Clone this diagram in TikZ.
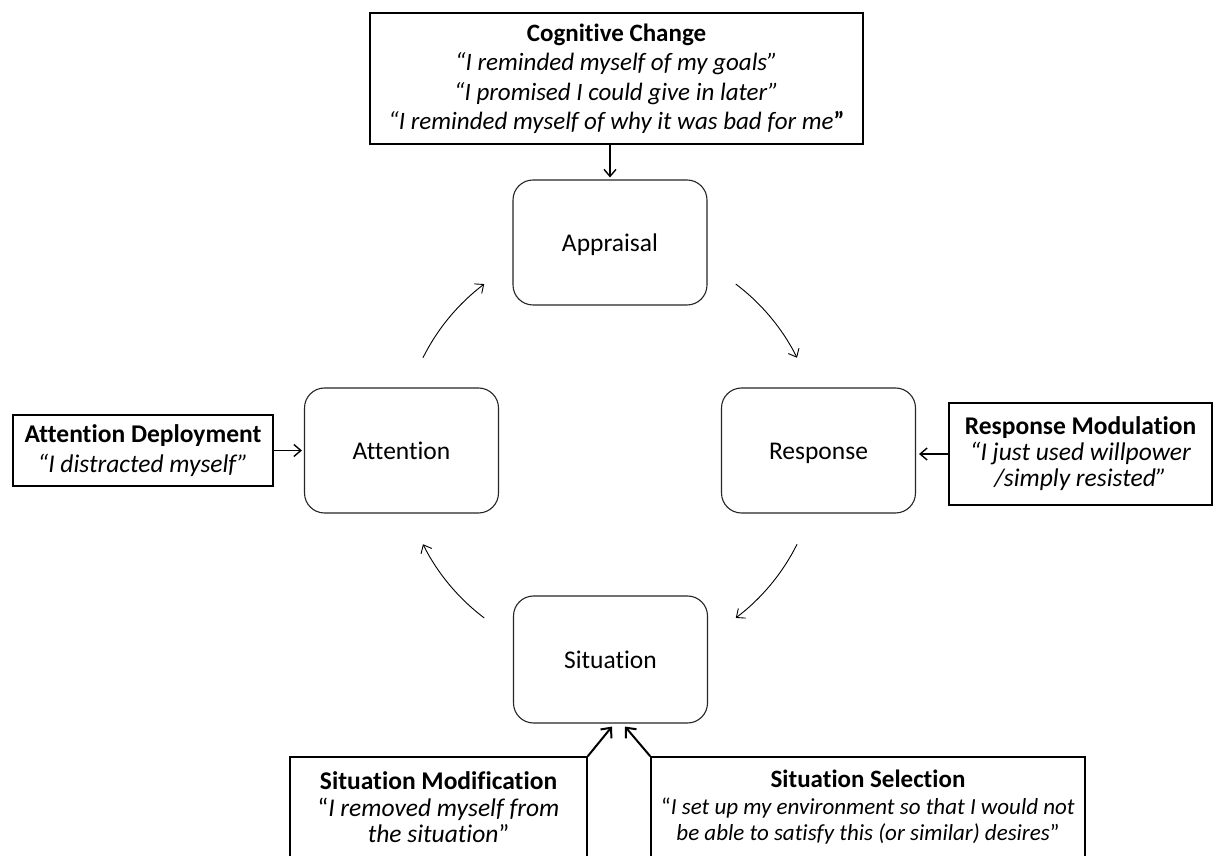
\documentclass[tikz,border=0pt]{standalone}
\usepackage{fontspec}
\setmainfont{Carlito}[Ligatures=NoCommon]
\usetikzlibrary{arrows.meta,calc}
\begin{document}
\begin{tikzpicture}[x=1pt,y=1pt,
  cyc/.style={draw=black!85, line width=1.1pt, rounded corners=20pt,
    minimum width=194pt, minimum height=125pt, inner sep=0pt,
    text height=18pt, text depth=0pt,
    font=\fontsize{25.5}{28}\selectfont},
  strat/.style={draw=black, line width=1.6pt, align=center, inner sep=0pt},
  cycarrow/.style={line width=0.9pt, -{Straight Barb[length=7pt,width=12pt]}},
  sidearrow/.style={line width=1.4pt, -{Straight Barb[length=7pt,width=12pt]}},
  botarrow/.style={line width=2pt, -{Straight Barb[length=8pt,width=14pt]}}
]
\useasboundingbox (0,0) rectangle (1216,855);
\fill[white] (0,0) rectangle (1216,855);

% cycle nodes
\node[cyc] (appraisal) at (610,612.5) {Appraisal};
\node[cyc] (attention) at (401.5,404.5) {Attention};
\node[cyc] (response) at (818.5,404.5) {Response};
\node[cyc, minimum height=127pt] (situation) at (610.5,195.5) {Situation};

% strategy boxes
\node[strat, minimum width=493pt, minimum height=131pt,
  font=\fontsize{25}{29.5}\selectfont] (cog) at (616.5,776.5)
  {\textbf{Cognitive Change}\\
   \textit{“I reminded myself of my goals”}\\
   \textit{“I promised I could give in later”}\\
   \textit{“I reminded myself of why it was bad for me}\textbf{”}};

\node[strat, minimum width=260pt, minimum height=71pt,
  font=\fontsize{25.5}{30}\selectfont] (attdep) at (143,404.5)
  {\textbf{Attention Deployment}\\
   \textit{“I distracted myself”}};

\node[strat, minimum width=263pt, minimum height=102pt,
  font=\fontsize{25.5}{26}\selectfont] (respmod) at (1080.5,401)
  {\textbf{Response Modulation}\\
   \textit{“I just used willpower}\\
   \textit{/simply resisted”}};

\node[strat, minimum width=297pt, minimum height=101pt,
  font=\fontsize{25.5}{26.5}\selectfont] (sitmod) at (438.5,47.5)
  {\textbf{Situation Modification}\\
   “\textit{I removed myself from}\\
   \textit{the situation}”};

\node[strat, minimum width=434pt, minimum height=101pt,
  font=\fontsize{23}{26.5}\selectfont] (sitsel) at (868,47.5)
  {\textbf{\fontsize{25}{26.5}\selectfont Situation Selection}\\
   “\textit{I set up my environment so that I would not}\\
   \textit{be able to satisfy this (or similar) desires}”};

% strategy arrows
\draw[sidearrow] (appraisal.north |- cog.south) -- ([yshift=2pt]appraisal.north);
\draw[sidearrow] (attdep.east) -- ([xshift=-2pt]attention.west |- attdep.east);
\draw[sidearrow] (respmod.west) -- ([xshift=3pt]response.east |- respmod.west);
\draw[botarrow] (sitmod.north east) -- ([xshift=1.5pt,yshift=-3pt]situation.south);
\draw[botarrow] (sitsel.north west) -- ([xshift=14.5pt,yshift=-3pt]situation.south);

% cycle arcs
\coordinate (ctr) at (610,404);
\coordinate (a1) at ($(ctr)+(53:209pt)$);
\coordinate (a2) at ($(ctr)+(-26.5:209pt)$);
\coordinate (a3) at ($(ctr)+(-127:209pt)$);
\coordinate (a4) at ($(ctr)+(153.5:209pt)$);
\draw[cycarrow] (a1) arc[start angle=53, end angle=26.5, radius=209pt];
\draw[cycarrow] (a2) arc[start angle=-26.5, end angle=-53, radius=209pt];
\draw[cycarrow] (a3) arc[start angle=-127, end angle=-153.5, radius=209pt];
\draw[cycarrow] (a4) arc[start angle=153.5, end angle=127, radius=209pt];
\end{tikzpicture}
\end{document}
